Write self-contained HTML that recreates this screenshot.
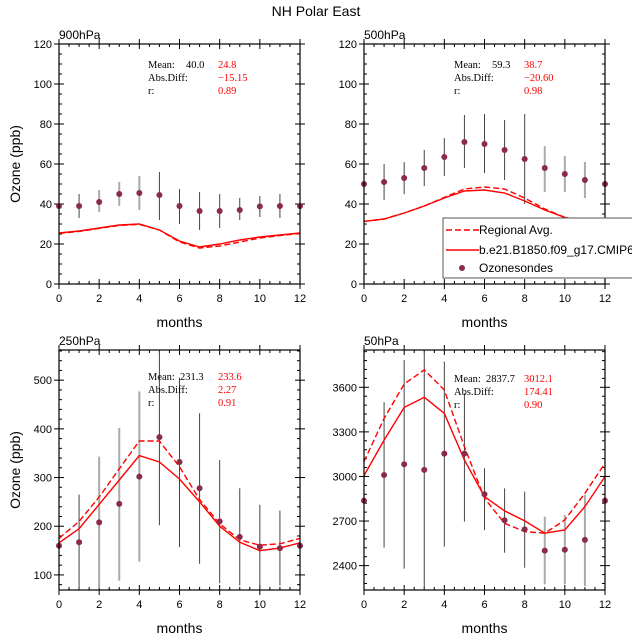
<!DOCTYPE html>
<html><head><meta charset="utf-8"><style>
body{margin:0;background:#fff}
svg{display:block;font-family:"Liberation Sans",sans-serif}
.st{font-family:"Liberation Serif",serif;font-size:10.5px}
</style></head><body>
<svg id="c" width="632" height="638" viewBox="0 0 632 638">
<text x="316" y="16" text-anchor="middle" font-size="14">NH Polar East</text>
</svg>
<script>
const months=[0,1,2,3,4,5,6,7,8,9,10,11,12];
// 900hPa
const obs900=[39,39,41,45,45.5,44.5,39,36.5,36.5,37,38.8,39,39];
const lo900=[null,33,36,39,37,32,30,27,28,32,33.5,33,null];
const hi900=[null,45,47,51,54,56,47.5,46,45,43,44,45,null];
const gray900=[0,0,1,1,1,0,0,0,0,0,0,0,0];
const sol900=[25.5,26.5,28,29.5,30,27,21.5,18.5,20,22,23.5,24.5,25.5];
const das900=[25.3,26.3,27.8,29.3,29.8,27,21,18,19,21,23,24.2,25.3];
// 500hPa
const obs500=[50,51,53,58,63.5,71,70,67,62.5,58,55,52,50];
const lo500=[null,42,45,49,54,58,55.5,52,40,46,46,43,null];
const hi500=[null,60,61,67,73,84.5,85,82,85,69,64,61,null];
const gray500=[0,0,0,0,0,0,0,0,0,1,1,1,0];
const sol500=[31.3,32.5,35.5,39,43,46.5,47,45.5,41.5,37,33.3,31.3,31];
const das500=[31.3,32.5,35.5,39,43.3,47.5,48.5,47.5,43,37.5,33.3,31.3,31.2];
// 250hPa
const obs250=[160,167,208,246,302,383,332,278,210,178,158,155,160];
const lo250=[null,68,73,88,127,202,157,123,83,78,72,78,null];
const hi250=[null,265,343,402,477,575,505,432,336,278,244,232,null];
const gray250=[0,0,1,1,1,0,0,0,0,0,0,0,0];
const sol250=[166,195,245,295,345,332,297,250,200,167,150,155,166];
const das250=[175,210,260,318,375,375,322,255,205,172,161,164,175];
// 50hPa
const obs50=[2837,3010,3082,3044,3154,3154,2880,2705,2644,2501,2507,2573,2837];
const lo50=[null,2521,2380,2236,2528,2696,2640,2487,2386,2274,2274,2263,null];
const hi50=[null,3500,3784,3860,3773,3560,3055,2920,2898,2730,2741,2876,null];
const gray50=[0,0,0,0,0,0,0,0,0,1,1,1,0];
const sol50=[3006,3245,3465,3533,3425,3111,2864,2768,2701,2618,2640,2797,2999];
const das50=[3100,3391,3622,3717,3582,3201,2853,2685,2629,2618,2707,2887,3089];

const panels=[
 {name:'900hPa',x0:59,x1:300,y0:44,y1:284,ymin:0,ymax:120,ticks:[0,20,40,60,80,100,120],minor:5,obs:obs900,lo:lo900,hi:hi900,gray:gray900,sol:sol900,das:das900,ylab:true,st:['40.0','24.8','\u221215.15','0.89'],sx:148,sy:68,vo:38},
 {name:'500hPa',x0:364,x1:605,y0:44,y1:284,ymin:0,ymax:120,ticks:[0,20,40,60,80,100,120],minor:5,obs:obs500,lo:lo500,hi:hi500,gray:gray500,sol:sol500,das:das500,ylab:false,st:['59.3','38.7','\u221220.60','0.98'],sx:454,sy:68,vo:38},
 {name:'250hPa',x0:59,x1:300,y0:350,y1:590,ymin:69,ymax:562,ticks:[100,200,300,400,500],minor:20,obs:obs250,lo:lo250,hi:hi250,gray:gray250,sol:sol250,das:das250,ylab:true,st:['231.3','233.6','2.27','0.91'],sx:148,sy:380,vo:32},
 {name:'50hPa',x0:364,x1:605,y0:350,y1:590,ymin:2236,ymax:3851,ticks:[2400,2700,3000,3300,3600],minor:60,obs:obs50,lo:lo50,hi:hi50,gray:gray50,sol:sol50,das:das50,ylab:false,st:['2837.7','3012.1','174.41','0.90'],sx:454,sy:382,vo:32}
];
const svg=document.getElementById('c');
const NS='http://www.w3.org/2000/svg';
function mk(tag,attrs,parent){const e=document.createElementNS(NS,tag);for(const k in attrs)e.setAttribute(k,attrs[k]);(parent||svg).appendChild(e);return e;}
panels.forEach(p=>{
 const g=mk('g',{});
 
 
 const clipId='clip'+p.name;
 const cp=mk('clipPath',{id:clipId},g);mk('rect',{x:p.x0,y:p.y0,width:p.x1-p.x0,height:p.y1-p.y0},cp);
 const X=v=>p.x0+(v-0)/12*(p.x1-p.x0);
 const Y=v=>p.y1-(v-p.ymin)/(p.ymax-p.ymin)*(p.y1-p.y0);
 const tg=mk('g',{stroke:'#000','stroke-width':1},g);
 for(let m=0;m<=12;m+=0.5){const x=X(m);const maj=(m%2===0);const L=maj?5:3;
  mk('line',{x1:x,x2:x,y1:p.y1+(maj?5:0),y2:p.y1-L},tg);
  mk('line',{x1:x,x2:x,y1:p.y0-(maj?5:0),y2:p.y0+L},tg);}
 let mstart=Math.ceil(p.ymin/p.minor)*p.minor;
 for(let v=mstart;v<=p.ymax;v+=p.minor){const y=Y(v);const maj=p.ticks.includes(v);const L=maj?5:3;
  mk('line',{x1:p.x0-(maj?5:0),x2:p.x0+L,y1:y,y2:y},tg);
  mk('line',{x1:p.x1+(maj?5:0),x2:p.x1-L,y1:y,y2:y},tg);}
 p.ticks.forEach(v=>{const t=mk('text',{x:p.x0-7,y:Y(v)+4,'text-anchor':'end','font-size':11},g);t.textContent=v;
  });
 [0,2,4,6,8,10,12].forEach(v=>{const t=mk('text',{x:X(v),y:p.y1+18,'text-anchor':'middle','font-size':11},g);t.textContent=v;
  });
 const xl=mk('text',{x:(p.x0+p.x1)/2,y:p.y1+43,'text-anchor':'middle','font-size':14},g);xl.textContent='months';
 
 if(p.ylab){const yl=mk('text',{x:0,y:0,'text-anchor':'middle','font-size':14,transform:`translate(20,${(p.y0+p.y1)/2}) rotate(-90)`},g);yl.textContent='Ozone (ppb)';
  }
 const pl=mk('text',{x:p.x0,y:p.y0-5,'font-size':12},g);pl.textContent=p.name;
 
 const dg=mk('g',{'clip-path':`url(#${clipId})`},g);
 months.forEach((m,i)=>{if(p.lo[i]==null)return;
  const l=mk('line',{x1:X(m),x2:X(m),y1:Y(p.lo[i]),y2:Y(p.hi[i]),stroke:p.gray[i]?'#aaa':'#444','stroke-width':p.gray[i]?2:1},dg);
  });
 const path=arr=>arr.map((v,i)=>(i?'L':'M')+X(months[i]).toFixed(1)+','+Y(v).toFixed(1)).join('');
 const ld=mk('path',{d:path(p.das),fill:'none',stroke:'#f00','stroke-width':1.4,'stroke-dasharray':'6,3'},dg);
 
 const ls=mk('path',{d:path(p.sol),fill:'none',stroke:'#f00','stroke-width':1.4},dg);
 
 months.forEach((m,i)=>{const c=mk('circle',{cx:X(m),cy:Y(p.obs[i]),r:3,fill:'#8b2a4a'},g);
  });
 mk('rect',{x:p.x0,y:p.y0,width:p.x1-p.x0,height:p.y1-p.y0,fill:'none',stroke:'#000','stroke-width':1.2},g);
 const sg=mk('g',{class:'st'},g);
 
 const r=[['Mean:',p.st[0],p.st[1]],['Abs.Diff:','',p.st[2]],['r:','',p.st[3]]];
 r.forEach((row,k)=>{const y=p.sy+k*13;
  mk('text',{x:p.sx,y:y},sg).textContent=row[0];
  if(row[1])mk('text',{x:p.sx+p.vo,y:y},sg).textContent=row[1];
  mk('text',{x:p.sx+70,y:y,fill:'#f00'},sg).textContent=row[2];});
});
const lg=mk('g',{});

mk('rect',{x:443,y:218,width:200,height:60,fill:'#fff',stroke:'#555','stroke-width':1},lg);
const legNames=['Regional Avg.','b.e21.B1850.f09_g17.CMIP6-piControl','Ozonesondes'];
const legY=[230,250,268];
legNames.forEach((n,i)=>{
 if(i<2)mk('line',{x1:446,x2:479,y1:legY[i],y2:legY[i],stroke:'#f00','stroke-width':1.4,'stroke-dasharray':i===0?'6,3':'none'},lg);
 else mk('circle',{cx:462,cy:legY[i],r:3,fill:'#8b2a4a'},lg);
 const t=mk('text',{x:479,y:legY[i]+4,'font-size':12},lg);t.textContent=n;
 
});
</script>
</body></html>
